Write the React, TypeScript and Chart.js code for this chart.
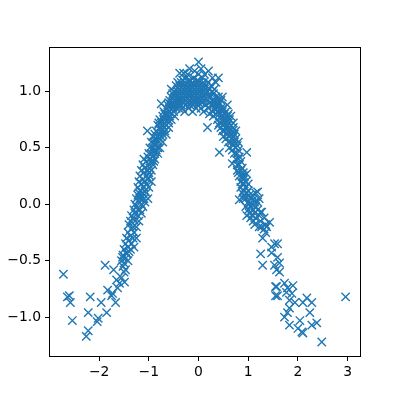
import { useEffect, useRef } from 'react';
import { Chart, registerables } from 'chart.js';

Chart.register(...registerables);

// Sparse points on the left tail: [x, y]
const leftTail: [number, number][] = [
  [-2.72, -0.62], [-2.64, -0.82], [-2.6, -0.81], [-2.58, -0.87], [-2.54, -1.03],
  [-2.26, -1.17], [-2.22, -1.12], [-2.22, -0.96], [-2.18, -0.82], [-2.04, -1.04],
  [-2.02, -1.01], [-1.96, -0.87], [-1.88, -0.54], [-1.85, -0.96], [-1.83, -0.76],
  [-1.75, -0.81], [-1.73, -0.79], [-1.71, -0.58], [-1.67, -0.87], [-1.65, -0.67],
  [-1.63, -0.74], [-1.59, -0.7], [-1.55, -0.65], [-1.49, -0.69], [-1.55, -0.5],
  [-1.53, -0.47], [-1.45, -0.43],
];

// Dense band: x column and the y values seen near it
const bandColumns: [number, number[]][] = [
  [-1.52, [-0.55, -0.45]],
  [-1.5, [-0.52, -0.4, -0.6]],
  [-1.47, [-0.35, -0.48, -0.58]],
  [-1.45, [-0.3, -0.44]],
  [-1.42, [-0.38, -0.25, -0.5]],
  [-1.4, [-0.32, -0.18, -0.42]],
  [-1.37, [-0.28, -0.4, -0.15]],
  [-1.35, [-0.22, -0.35, -0.1]],
  [-1.32, [-0.3, -0.12, -0.2]],
  [-1.3, [-0.05, -0.25, -0.38]],
  [-1.28, [-0.15, 0.0, -0.08]],
  [-1.25, [-0.2, -0.02, 0.05, -0.3]],
  [-1.22, [-0.1, 0.08, -0.05, 0.15]],
  [-1.2, [0.02, -0.15, 0.1, 0.2]],
  [-1.18, [-0.05, 0.05, 0.25, 0.12]],
  [-1.15, [0.0, 0.18, -0.08, 0.3, 0.08]],
  [-1.12, [0.1, 0.22, 0.35, -0.02]],
  [-1.1, [0.15, 0.05, 0.28, 0.4]],
  [-1.08, [0.2, 0.32, 0.12, 0.02]],
  [-1.05, [0.25, 0.38, 0.18, 0.1]],
  [-1.03, [0.65]],
  [-1.02, [0.3, 0.22, 0.42, 0.05]],
  [-1.0, [0.35, 0.15, 0.28, 0.45]],
  [-0.98, [0.4, 0.25, 0.5, 0.32]],
  [-0.95, [0.45, 0.3, 0.38, 0.2, 0.55]],
  [-0.92, [0.42, 0.5, 0.35, 0.6]],
  [-0.9, [0.48, 0.38, 0.55]],
  [-0.88, [0.52, 0.45, 0.62, 0.4]],
  [-0.85, [0.55, 0.48, 0.65, 0.58]],
  [-0.82, [0.6, 0.5, 0.7, 0.45]],
  [-0.8, [0.62, 0.55, 0.72]],
  [-0.78, [0.58, 0.68, 0.5, 0.75]],
  [-0.75, [0.65, 0.72, 0.6, 0.89]],
  [-0.72, [0.7, 0.78, 0.62, 0.55]],
  [-0.7, [0.75, 0.68, 0.82]],
  [-0.68, [0.72, 0.8, 0.65]],
  [-0.65, [0.78, 0.85, 0.7, 0.62]],
  [-0.62, [0.8, 0.88, 0.75]],
  [-0.6, [0.82, 0.72, 0.9, 0.68]],
  [-0.58, [0.85, 0.78, 0.92]],
  [-0.55, [0.88, 0.8, 0.95, 0.75, 1.02]],
  [-0.52, [0.9, 0.85, 0.98]],
  [-0.5, [0.92, 0.82, 1.0, 0.88]],
  [-0.48, [0.95, 0.88, 0.78]],
  [-0.45, [0.9, 0.98, 1.05, 0.85]],
  [-0.42, [0.92, 1.0, 0.88, 1.08]],
  [-0.4, [0.95, 1.02, 0.85, 0.9]],
  [-0.38, [0.98, 1.05, 0.92, 1.16]],
  [-0.35, [1.0, 0.92, 1.08, 0.88]],
  [-0.32, [0.95, 1.02, 0.85, 1.1]],
  [-0.3, [0.98, 1.05, 0.9, 1.16]],
  [-0.28, [1.0, 0.92, 1.08, 0.82]],
  [-0.25, [0.95, 1.02, 1.12, 0.88]],
  [-0.22, [0.98, 1.05, 0.9, 1.15]],
  [-0.2, [1.0, 0.92, 1.08, 0.85]],
  [-0.18, [0.95, 1.02, 1.1, 0.88, 1.2]],
  [-0.15, [0.98, 1.05, 0.9]],
  [-0.12, [1.0, 0.92, 1.08, 0.82]],
  [-0.1, [0.95, 1.02, 1.12, 0.88]],
  [-0.08, [0.98, 1.05, 0.9, 1.18]],
  [-0.05, [1.0, 0.92, 1.08, 0.85]],
  [-0.02, [0.95, 1.02, 1.1, 0.88]],
  [0.0, [0.98, 1.05, 0.9, 1.15, 1.26]],
  [0.02, [1.0, 0.92, 1.08]],
  [0.05, [0.95, 1.02, 0.85, 1.2]],
  [0.08, [0.98, 1.05, 0.9, 1.12]],
  [0.1, [1.0, 0.92, 1.08, 0.82]],
  [0.12, [0.95, 1.02, 1.15]],
  [0.15, [0.98, 1.05, 0.88]],
  [0.18, [0.92, 1.0, 0.68]],
  [0.2, [0.95, 1.08, 0.85, 1.18]],
  [0.22, [0.9, 1.02, 0.8]],
  [0.25, [0.95, 1.05, 0.88]],
  [0.28, [0.92, 1.0, 0.82, 1.12]],
  [0.3, [0.88, 0.98, 0.78]],
  [0.32, [0.92, 1.02, 0.85]],
  [0.35, [0.88, 0.95, 0.8, 1.08]],
  [0.38, [0.85, 0.92, 0.75]],
  [0.4, [0.88, 0.82, 0.95, 0.7, 1.12]],
  [0.42, [0.8, 0.9, 0.72, 0.46]],
  [0.45, [0.85, 0.78, 0.92, 0.68]],
  [0.48, [0.75, 0.82, 0.65, 0.95]],
  [0.5, [0.78, 0.7, 0.85, 0.6]],
  [0.52, [0.72, 0.8, 0.65]],
  [0.55, [0.75, 0.68, 0.82, 0.58]],
  [0.58, [0.7, 0.62, 0.78, 0.88]],
  [0.6, [0.72, 0.65, 0.55, 0.8]],
  [0.62, [0.68, 0.6, 0.75, 0.5]],
  [0.65, [0.62, 0.7, 0.55, 0.78]],
  [0.68, [0.65, 0.58, 0.48, 0.36]],
  [0.7, [0.6, 0.52, 0.68, 0.72]],
  [0.72, [0.55, 0.62, 0.45]],
  [0.75, [0.5, 0.58, 0.4, 0.65]],
  [0.78, [0.45, 0.52, 0.35, 0.3]],
  [0.8, [0.4, 0.48, 0.28, 0.55]],
  [0.82, [0.35, 0.42, 0.25, 0.04]],
  [0.85, [0.3, 0.38, 0.2, 0.15]],
  [0.88, [0.25, 0.32, 0.1, 0.18]],
  [0.9, [0.22, 0.28, 0.12, 0.05]],
  [0.92, [0.18, 0.08, 0.25]],
  [0.95, [0.15, 0.2, 0.05, -0.02]],
  [0.97, [0.1, 0.27, 0.46, -0.1]],
  [1.0, [0.12, 0.02, -0.05, 0.18]],
  [1.02, [0.08, -0.08, 0.0]],
  [1.05, [0.05, -0.02, -0.12]],
  [1.08, [0.0, -0.1, 0.08]],
  [1.1, [-0.05, -0.15, 0.04]],
  [1.13, [0.02, -0.08, -0.18]],
  [1.15, [-0.02, 0.1, -0.12]],
  [1.19, [0.11, 0.02, -0.05]],
  [1.22, [-0.1, -0.2, 0.05]],
  [1.25, [-0.07, -0.15, -0.44]],
  [1.27, [-0.07, -0.2]],
  [1.29, [-0.54, -0.3]],
  [1.32, [-0.22, -0.12]],
  [1.35, [-0.25, -0.18]],
  [1.37, [-0.2]],
  [1.43, [-0.16]],
  [1.47, [-0.43, -0.38]],
  [1.53, [-0.54, -0.35]],
  [1.55, [-0.73, -0.81]],
  [1.57, [-0.58, -0.73]],
  [1.59, [-0.35, -0.47, -0.81]],
];

// Sparse points on the right tail: [x, y]
const rightTail: [number, number][] = [
  [1.63, -0.52], [1.63, -0.6], [1.73, -0.7], [1.79, -0.74], [1.77, -0.78],
  [1.9, -0.72], [1.88, -0.79], [1.83, -0.85], [1.94, -0.87], [2.18, -0.83],
  [2.28, -0.87], [2.1, -0.87], [1.83, -0.92], [1.79, -0.96], [1.73, -1.0],
  [2.24, -0.96], [2.04, -1.03], [1.83, -1.07], [2.0, -1.1], [2.1, -1.14],
  [2.08, -1.13], [2.28, -1.07], [2.38, -1.05], [2.48, -1.22], [2.96, -0.82],
];

const xTicks = [-2, -1, 0, 1, 2, 3];
const yTicks = [-1.0, -0.5, 0.0, 0.5, 1.0];

const fmt = (v: number, d: number) => (v < 0 ? '\u2212' : '') + Math.abs(v).toFixed(d);

const frame = {
  id: 'frame',
  afterDatasetsDraw(chart: any) {
    const { ctx, chartArea: a } = chart;
    ctx.save();
    ctx.strokeStyle = '#000';
    ctx.lineWidth = 1;
    ctx.strokeRect(a.left - 0.5, a.top - 0.5, a.right - a.left + 1, a.bottom - a.top + 1);
    ctx.restore();
  },
};

export default function App() {
  const ref = useRef<HTMLCanvasElement>(null);
  useEffect(() => {
    const points = [
      ...leftTail.map(([x, y]) => ({ x, y })),
      ...bandColumns.flatMap(([x, ys]) => ys.map((y) => ({ x, y }))),
      ...rightTail.map(([x, y]) => ({ x, y })),
    ];
    const font = { family: 'DejaVu Sans', size: 13.9 };
    const grid = {
      display: true,
      drawOnChartArea: false,
      drawTicks: true,
      tickLength: 5,
      tickWidth: 1,
      tickColor: '#000',
    };
    const chart = new Chart(ref.current!, {
      type: 'scatter',
      data: {
        datasets: [
          {
            data: points,
            pointStyle: 'crossRot',
            pointRadius: 5.9,
            pointHoverRadius: 5.9,
            borderWidth: 1.4,
            borderColor: '#1f77b4',
            backgroundColor: '#1f77b4',
          },
        ],
      },
      options: {
        responsive: false,
        animation: false,
        events: [],
        layout: { padding: { left: 0, top: 48, right: 40, bottom: 0 } },
        plugins: { legend: { display: false }, tooltip: { enabled: false } },
        scales: {
          x: {
            type: 'linear',
            min: -2.99,
            max: 3.25,
            afterBuildTicks: (s: any) => {
              s.ticks = xTicks.map((value) => ({ value }));
            },
            afterFit: (s: any) => {
              s.height = 44;
            },
            ticks: {
              callback: (v: any) => fmt(Number(v), 0),
              color: '#000',
              font,
              padding: 3,
              maxRotation: 0,
              autoSkip: false,
            },
            grid,
            border: { display: false },
          },
          y: {
            type: 'linear',
            min: -1.344,
            max: 1.384,
            afterBuildTicks: (s: any) => {
              s.ticks = yTicks.map((value) => ({ value }));
            },
            afterFit: (s: any) => {
              s.width = 50;
            },
            ticks: {
              callback: (v: any) => fmt(Number(v), 1),
              color: '#000',
              font,
              padding: 4,
              autoSkip: false,
            },
            grid,
            border: { display: false },
          },
        },
      },
      plugins: [frame],
    });
    return () => chart.destroy();
  }, []);
  return (
    <div style={{ position: 'fixed', left: 0, top: 0, width: 400, height: 400, background: '#fff' }}>
      <canvas ref={ref} width={400} height={400} />
    </div>
  );
}
